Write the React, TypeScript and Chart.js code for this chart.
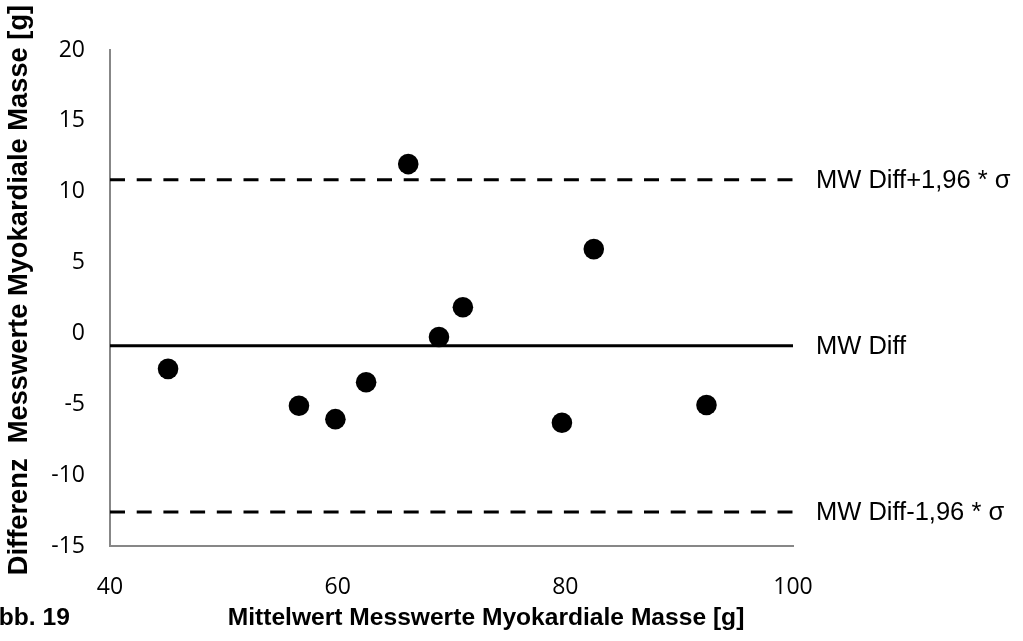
import React, { useEffect, useRef } from "react";
import { Chart, registerables } from "chart.js";

Chart.register(...registerables);

// Bland-Altman data: mean of measurements (x) vs difference (y)
const meanValues = [45.1, 56.6, 59.8, 62.5, 66.2, 68.9, 71.0, 79.7, 82.5, 92.4];
const diffValues = [-2.5, -5.1, -6.05, -3.45, 11.95, -0.25, 1.85, -6.3, 5.95, -5.05];

const meanDiff = -0.87;
const upperLimit = 10.85;
const lowerLimit = -12.6;

const xMin = 40;
const xMax = 100;
const xStep = 20;
const yMin = -15;
const yMax = 20;
const yStep = 5;

const lineLabels = ["MW Diff+1,96 * σ", "MW Diff", "MW Diff-1,96 * σ"];
const lineValues = [upperLimit, meanDiff, lowerLimit];

const xTitle = "Mittelwert Messwerte Myokardiale Masse [g]";
const yTitle = "Differenz  Messwerte Myokardiale Masse [g]";
const figLabel = "Abb. 19";

const labelFont = "'Liberation Sans', Arial, sans-serif";
const tickFont = "'Open Sans', sans-serif";

export default function App() {
  const ref = useRef<HTMLCanvasElement | null>(null);

  useEffect(() => {
    const canvas = ref.current;
    if (!canvas) return;

    const textPlugin = {
      id: "extraText",
      afterDraw(chart: any) {
        const ctx = chart.ctx;
        const area = chart.chartArea;
        const ys = chart.scales.y;
        ctx.save();
        ctx.fillStyle = "#000";
        // right-side line labels
        ctx.font = `25.5px ${labelFont}`;
        ctx.textAlign = "left";
        ctx.textBaseline = "middle";
        lineLabels.forEach((t, i) => {
          ctx.fillText(t, area.right + 23, ys.getPixelForValue(lineValues[i]) + 1);
        });
        // x title
        ctx.font = `bold 24.6px ${labelFont}`;
        ctx.textAlign = "center";
        ctx.fillText(xTitle, 486, 618);
        // figure label
        ctx.textAlign = "left";
        ctx.fillText(figLabel, -19, 618);
        // y title
        ctx.save();
        ctx.font = `bold 27.3px ${labelFont}`;
        ctx.translate(19, 290);
        ctx.rotate(-Math.PI / 2);
        ctx.textAlign = "center";
        ctx.fillText(yTitle, 0, 0);
        ctx.restore();
        ctx.restore();
      },
    };

    const lineData = (v: number) => [
      { x: xMin, y: v },
      { x: xMax, y: v },
    ];

    const chart = new Chart(canvas, {
      type: "scatter",
      data: {
        datasets: [
          {
            label: "Differenz",
            data: meanValues.map((x, i) => ({ x, y: diffValues[i] })),
            pointRadius: 10.3,
            pointBackgroundColor: "#000",
            pointBorderWidth: 0,
            showLine: false,
          },
          {
            label: lineLabels[0],
            data: lineData(upperLimit),
            showLine: true,
            borderColor: "#000",
            borderWidth: 3,
            borderDash: [15, 11.7],
            pointRadius: 0,
          },
          {
            label: lineLabels[1],
            data: lineData(meanDiff),
            showLine: true,
            borderColor: "#000",
            borderWidth: 3.2,
            pointRadius: 0,
          },
          {
            label: lineLabels[2],
            data: lineData(lowerLimit),
            showLine: true,
            borderColor: "#000",
            borderWidth: 3,
            borderDash: [15, 11.7],
            pointRadius: 0,
          },
        ],
      },
      options: {
        animation: false,
        responsive: false,
        devicePixelRatio: 1,
        layout: { padding: { left: 0, right: 230, top: 50, bottom: 0 } },
        plugins: {
          legend: { display: false },
          title: { display: false },
          tooltip: { enabled: false },
        },
        scales: {
          x: {
            type: "linear",
            min: xMin,
            max: xMax,
            afterFit: (s: any) => {
              s.height = 95;
            },
            ticks: {
              stepSize: xStep,
              color: "#000",
              font: { family: tickFont, size: 23 },
              padding: 28,
              maxRotation: 0,
            },
            grid: { display: false, drawTicks: false },
            border: { display: true, color: "#878787", width: 2 },
          },
          y: {
            type: "linear",
            min: yMin,
            max: yMax,
            afterFit: (s: any) => {
              s.width = 110;
            },
            ticks: {
              stepSize: yStep,
              color: "#000",
              font: { family: tickFont, size: 23 },
              padding: 25,
            },
            grid: { display: false, drawTicks: false },
            border: { display: true, color: "#878787", width: 2 },
          },
        },
      },
      plugins: [textPlugin],
    } as any);

    return () => chart.destroy();
  }, []);

  return (
    <div style={{ position: "fixed", left: 0, top: 0, width: 1023, height: 641, background: "#fff" }}>
      <canvas ref={ref} width={1023} height={641} style={{ display: "block" }} />
    </div>
  );
}
